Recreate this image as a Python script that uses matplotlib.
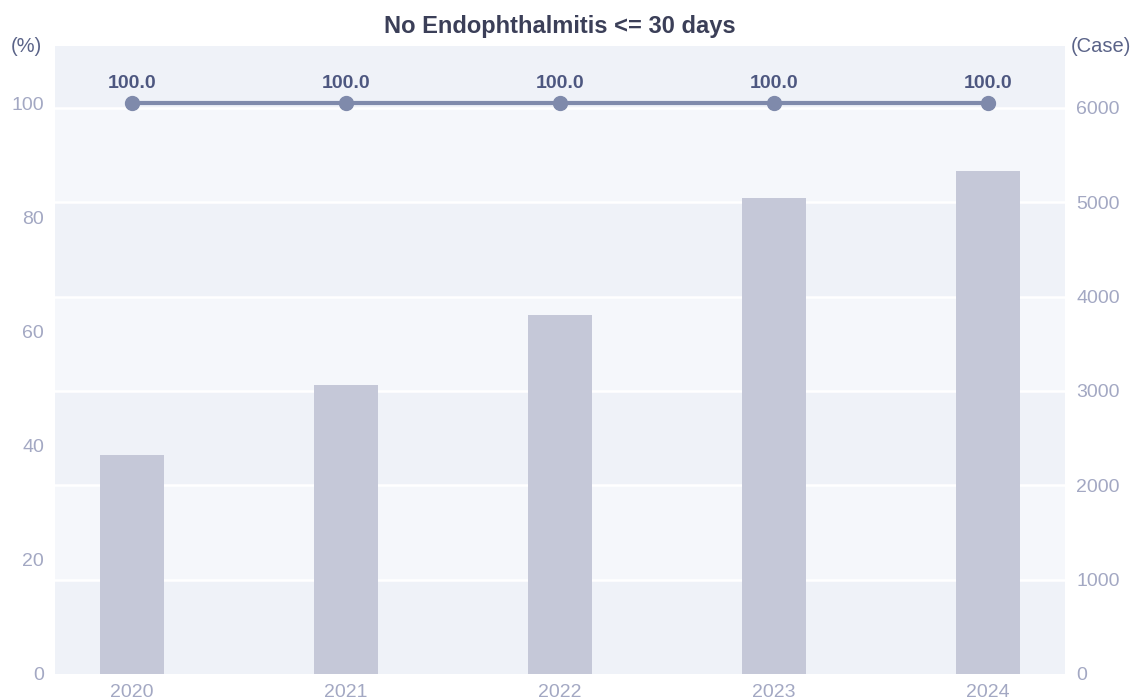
import matplotlib
matplotlib.use("Agg")
import matplotlib.pyplot as plt

years = ["2020", "2021", "2022", "2023", "2024"]
cases = [2321, 3063, 3805, 5042, 5328]
rate = [100.0, 100.0, 100.0, 100.0, 100.0]
pct_ticks = [0, 20, 40, 60, 80, 100]
case_ticks = [0, 1000, 2000, 3000, 4000, 5000, 6000]

plt.rcParams['font.family'] = ['Liberation Sans', 'DejaVu Sans']

fig = plt.figure(figsize=(11.34, 7.0), dpi=100)
ax1 = fig.add_axes([55/1134, 1-674/700, (1065-55)/1134, (674-46)/700])
ax1.set_xlim(-0.36, 4.36)
case_max = 6657
ax1.set_ylim(0, case_max)

dark = "#eff2f8"
light = "#f5f7fb"
bounds = case_ticks + [case_max]
for i in range(len(bounds)-1):
    ax1.axhspan(bounds[i], bounds[i+1], color=dark if i % 2 == 0 else light, lw=0, zorder=0)
for t in case_ticks[1:]:
    ax1.axhline(t, color="white", lw=1.8, zorder=1)

x = list(range(len(years)))
ax1.bar(x, cases, width=0.3, color="#c5c8d8", zorder=2)

ax2 = ax1.twinx()
ax2.set_ylim(0, 110)

ax1.yaxis.tick_right()
ax1.set_yticks(case_ticks)
ax1.set_yticklabels([str(t) for t in case_ticks])
ax1.set_xticks(x)
ax1.set_xticklabels(years)
ax1.tick_params(axis='both', length=0, colors="#a3a8c3", labelsize=14)
ax1.tick_params(axis='y', pad=8)
ax1.tick_params(axis='x', pad=7)
for s in ax1.spines.values():
    s.set_visible(False)

ax2.plot(x, rate, color="#7f8aab", lw=3, marker='o', markersize=10, zorder=3)
for xi, v in zip(x, rate):
    ax2.annotate(f"{v:.1f}", (xi, v), xytext=(0, 8), textcoords="offset points",
                 ha='center', va='bottom', fontsize=14, fontweight='bold', color="#4d5780")
ax2.yaxis.tick_left()
ax2.set_yticks(pct_ticks)
ax2.set_yticklabels([str(t) for t in pct_ticks])
ax2.tick_params(axis='y', length=0, colors="#a3a8c3", labelsize=14, pad=8)
for s in ax2.spines.values():
    s.set_visible(False)

fig.text(26/1134, 1-47/700, "(%)", ha='center', va='center', fontsize=14.5, color="#5a6388")
fig.text(1101/1134, 1-47/700, "(Case)", ha='center', va='center', fontsize=14.5, color="#5a6388")
fig.text(560/1134, 1-26/700, "No Endophthalmitis <= 30 days", ha='center', va='center',
         fontsize=17, fontweight='bold', color="#3b3f58")

fig.savefig("out.png", dpi=100)
